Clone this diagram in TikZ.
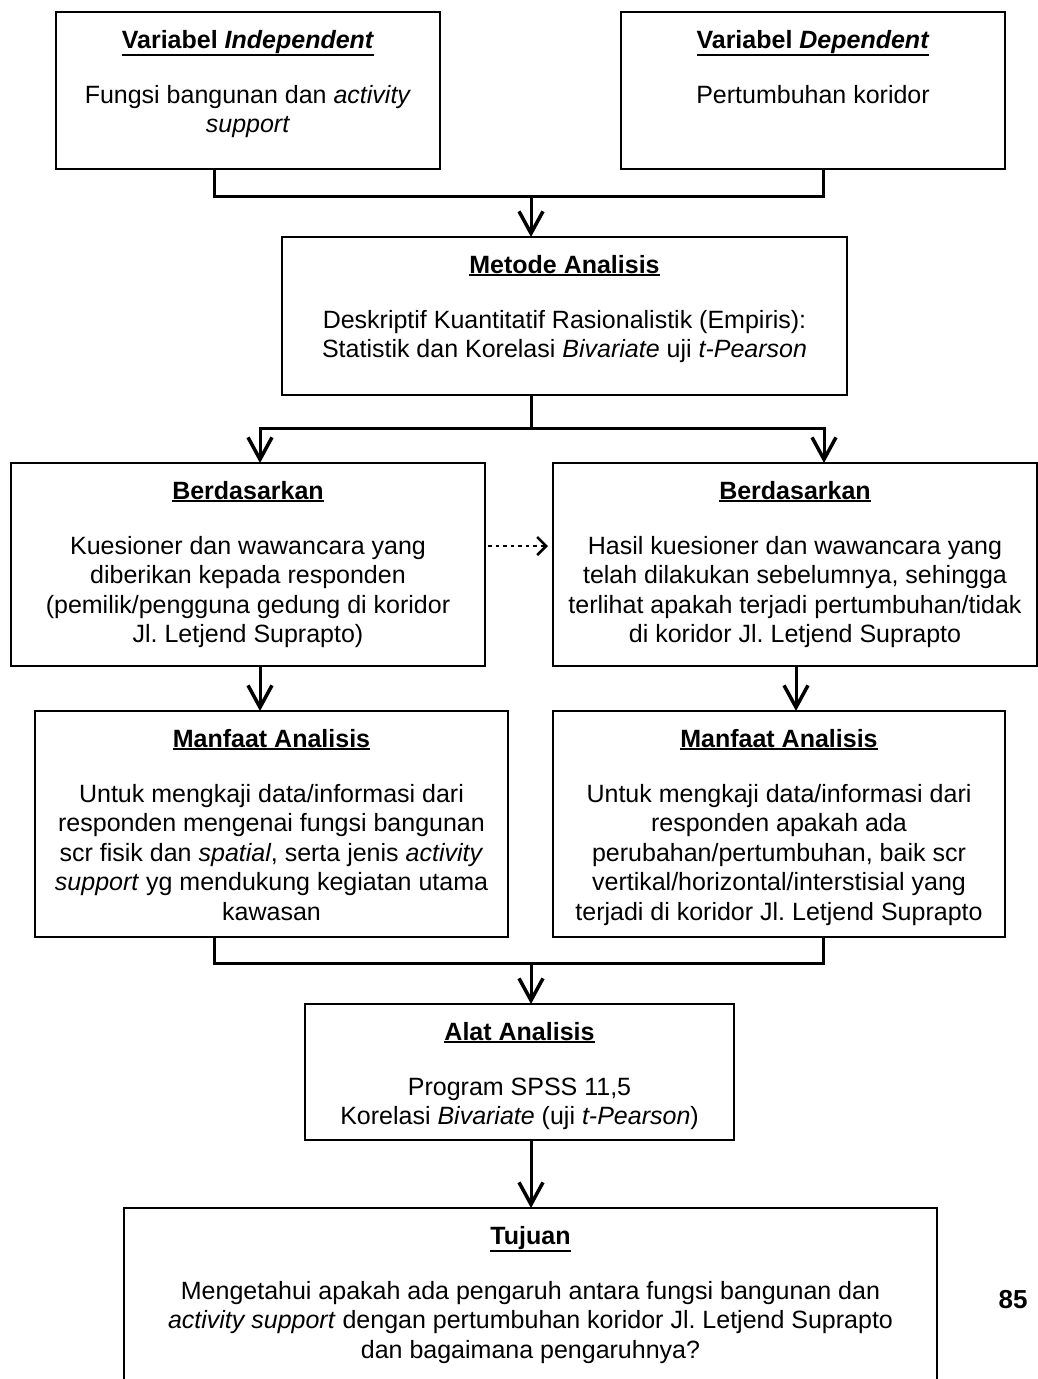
\documentclass[tikz,border=0pt]{standalone}
\usepackage{fontspec}
\setmainfont{Liberation Sans}
\usetikzlibrary{arrows.meta, calc}

% thick underline for box titles
\newcommand{\garis}[1]{\setbox0\hbox{#1}\leavevmode
  \rlap{\rule[\dimexpr-\dp0-3pt\relax]{\wd0}{2pt}}\box0}
% box content: width, height, title, body
\newcommand{\isikotak}[4]{\parbox[c][#2][t]{#1}{\centering
  \rule{0pt}{36pt}\garis{\textbf{#3}}\\[25.5pt]#4\par}}

\begin{document}
\begin{tikzpicture}[
  x=1pt, y=-1pt,
  kotak/.style={draw=black, line width=1.3pt, fill=white, inner sep=0pt,
                outer sep=0pt, anchor=north west,
                font=\fontsize{25}{29.5}\selectfont},
  hub/.style={line width=3pt, line join=miter},
  panah/.style={hub, -{Straight Barb[length=22pt, width=24pt, line width=3.5pt]}},
  titik/.style={line width=2.5pt, dash pattern=on 3.5pt off 4pt,
                -{Straight Barb[length=9pt, width=18pt, line width=2.5pt]}},
]
\useasboundingbox (0,0) rectangle (1038,1379);

\node (indep) [kotak] at (56,12) {\isikotak{384pt}{157pt}
  {Variabel \textit{Independent}}
  {Fungsi bangunan dan \textit{activity}\\\textit{support}}};
\node (dep) [kotak] at (621,12) {\isikotak{384pt}{157pt}
  {Variabel \textit{Dependent}}
  {Pertumbuhan koridor}};
\node (metode) [kotak] at (282,237) {\isikotak{565pt}{158pt}
  {Metode Analisis}
  {Deskriptif Kuantitatif Rasionalistik (Empiris):\\
   Statistik dan Korelasi \textit{Bivariate} uji \textit{t-Pearson}}};
\node (berdL) [kotak] at (11,463) {\isikotak{474pt}{203pt}
  {Berdasarkan}
  {Kuesioner dan wawancara yang\\diberikan kepada responden\\
   (pemilik/pengguna gedung di koridor\\Jl.\ Letjend Suprapto)}};
\node (berdR) [kotak] at (553,463) {\isikotak{484pt}{203pt}
  {Berdasarkan}
  {Hasil kuesioner dan wawancara yang\\telah dilakukan sebelumnya, sehingga\\
   terlihat apakah terjadi pertumbuhan/tidak\\di koridor Jl.\ Letjend Suprapto}};
\node (manfL) [kotak] at (35,711) {\isikotak{473pt}{226pt}
  {Manfaat Analisis}
  {Untuk mengkaji data/informasi dari\\responden mengenai fungsi bangunan\\
   scr fisik dan \textit{spatial}, serta jenis \textit{activity}\\
   \textit{support} yg mendukung kegiatan utama\\kawasan}};
\node (manfR) [kotak] at (553,711) {\isikotak{452pt}{226pt}
  {Manfaat Analisis}
  {Untuk mengkaji data/informasi dari\\responden apakah ada\\
   perubahan/pertumbuhan, baik scr\\vertikal/horizontal/interstisial yang\\
   terjadi di koridor Jl.\ Letjend Suprapto}};
\node (alat) [kotak] at (305,1004) {\isikotak{429pt}{136pt}
  {Alat Analisis}
  {Program SPSS 11,5\\Korelasi \textit{Bivariate} (uji \textit{t-Pearson})}};
\node (tujuan) [kotak] at (124,1208) {\isikotak{813pt}{250pt}
  {Tujuan}
  {Mengetahui apakah ada pengaruh antara fungsi bangunan dan\\
   \textit{activity support} dengan pertumbuhan koridor Jl.\ Letjend Suprapto\\
   dan bagaimana pengaruhnya?}};
\node (hal) [font=\fontsize{26}{29.5}\selectfont\bfseries] at (1013,1300) {85};

% variables -> metode
\coordinate (tA) at (214,196);
\coordinate (tB) at (823,196);
\coordinate (tM) at (531,196);
\draw [hub] (tA |- indep.south) -- (tA) -- (tB) -- (tB |- dep.south);
\draw [panah] (tM) -- (tM |- metode.north);
% metode -> berdasarkan
\coordinate (sM) at (531,428);
\coordinate (sL) at (260,428);
\coordinate (sR) at (824,428);
\draw [hub] (sM |- metode.south) -- (sM);
\draw [panah] (sM) -| (sL |- berdL.north);
\draw [panah] (sM) -| (sR |- berdR.north);
\coordinate (dk) at (0,546);
\draw [titik, shorten <=3pt, shorten >=5pt] (berdL.east |- dk) -- (berdR.west |- dk);
% berdasarkan -> manfaat
\coordinate (mL) at (260,700);
\coordinate (mR) at (796,700);
\draw [panah] (mL |- berdL.south) -- (mL |- manfL.north);
\draw [panah] (mR |- berdR.south) -- (mR |- manfR.north);
% manfaat -> alat -> tujuan
\coordinate (gL) at (214,963);
\coordinate (gR) at (823,963);
\coordinate (gM) at (531,963);
\draw [hub] (gL |- manfL.south) -- (gL) -- (gR) -- (gR |- manfR.south);
\draw [panah] (gM) -- (gM |- alat.north);
\draw [panah] (gM |- alat.south) -- (gM |- tujuan.north);
\end{tikzpicture}
\end{document}
